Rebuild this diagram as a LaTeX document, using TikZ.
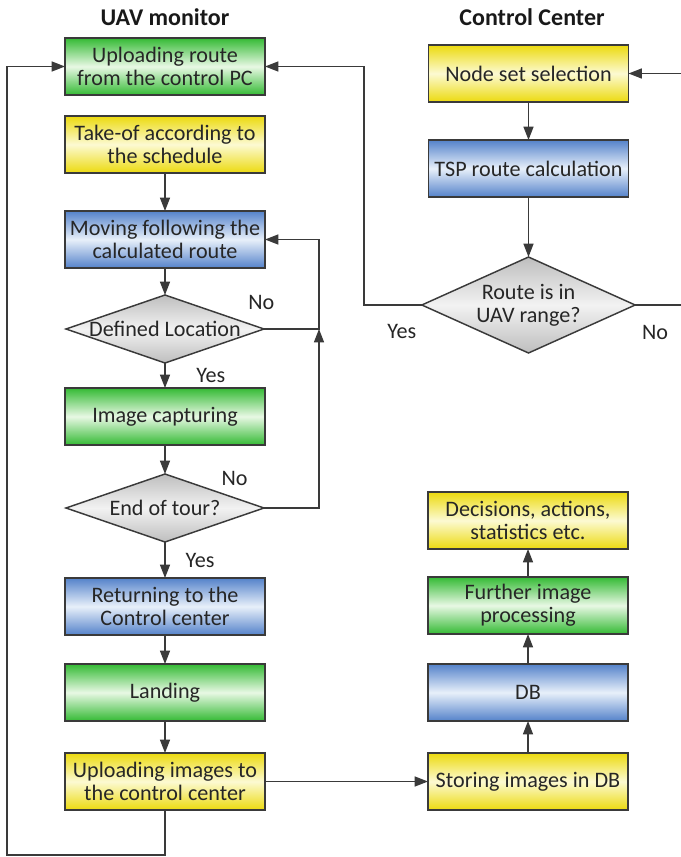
\documentclass[tikz,border=0pt]{standalone}
\usepackage{fontspec}
\setmainfont{Carlito}
\usetikzlibrary{arrows.meta,positioning,shapes.geometric}

\definecolor{grnE}{RGB}{52,186,52}
\definecolor{grnM}{RGB}{232,248,228}
\definecolor{ylwE}{RGB}{236,218,14}
\definecolor{ylwM}{RGB}{252,250,210}
\definecolor{bluE}{RGB}{84,130,202}
\definecolor{bluM}{RGB}{232,240,250}
\definecolor{gryE}{RGB}{190,190,190}
\definecolor{gryM}{RGB}{242,242,242}
\definecolor{edge}{RGB}{58,58,58}

\begin{document}
\begin{tikzpicture}[
  x=0.75pt, y=-0.75pt, >={Triangle[length=10pt,width=7.5pt]},
  font=\fontsize{16.6}{17.5}\selectfont,
  box/.style={draw=edge, line width=1.1pt, align=center, inner sep=2pt, outer sep=0pt,
              minimum width=150pt, minimum height=42.75pt, text=black!85},
  gbox/.style={box, top color=grnE, bottom color=grnE, middle color=grnM},
  ybox/.style={box, top color=ylwE, bottom color=ylwE, middle color=ylwM},
  bbox/.style={box, top color=bluE, bottom color=bluE, middle color=bluM},
  test/.style={diamond, draw=edge, line width=1.1pt, align=center, inner sep=0pt,
               outer sep=0pt, aspect=2.9, minimum width=148.5pt, minimum height=51pt,
               text=black!85, top color=gryE, bottom color=gryE, middle color=gryM},
  ar/.style={draw=edge, line width=1pt, ->},
  lb/.style={inner sep=1pt, text=black!85},
  title/.style={font=\fontsize{18}{20}\bfseries\selectfont, text=black!90},
]
\useasboundingbox (0,0) rectangle (681,857);

% UAV side
\node[title] (uavtitle) at (165,17) {UAV monitor};
\node[gbox] (uproute) at (165,66.5) {Uploading route\\from the control PC};
\node[ybox, below=15.75pt of uproute] (takeoff) {Take-of according to\\the schedule};
\node[bbox, below=28.5pt of takeoff] (moving) {Moving following the\\calculated route};
\node[test, below=20.25pt of moving] (defloc) {Defined Location};
\node[gbox, below=18.75pt of defloc] (capture) {Image capturing};
\node[test, below=21.75pt of capture] (eot) {End of tour?};
\node[bbox, below=27pt of eot] (ret) {Returning to the\\Control center};
\node[gbox, below=21.75pt of ret] (land) {Landing};
\node[ybox, below=24pt of land] (upimg) {Uploading images to\\the control center};

% control center side
\node[title] (cctitle) at (532,17) {Control Center};
\node[ybox] (nodeset) at (528.5,73.5) {Node set selection};
\node[bbox, below=28.5pt of nodeset] (tsp) {TSP route calculation};
\node[test, below=45pt of tsp, aspect=2.22, minimum width=160pt, minimum height=72pt]
  (range) {Route is in\\UAV range?};
\node[ybox, right=122.25pt of upimg] (store) {Storing images in DB};
\node[bbox, above=24pt of store] (db) {DB};
\node[gbox, above=22.5pt of db] (further) {Further image\\processing};
\node[ybox, above=21pt of further] (decide) {Decisions, actions,\\statistics etc.};

\coordinate (loopx) at (319,0);
\coordinate (yesx) at (364,0);
\coordinate (nobend) at (695,0);
\coordinate (backx) at (7,855);

\draw[ar] (takeoff) -- (moving);
\draw[ar] (moving) -- (defloc);
\draw[ar] (defloc) -- node[lb, right=22pt]{Yes} (capture);
\draw[ar] (capture) -- (eot);
\draw[ar] (eot) -- node[lb, right=14pt]{Yes} (ret);
\draw[ar] (ret) -- (land);
\draw[ar] (land) -- (upimg);
\draw[ar] (upimg) -- (store);
\draw[ar] (store) -- (db);
\draw[ar] (db) -- (further);
\draw[ar] (further) -- (decide);
\draw[ar] (nodeset) -- (tsp);
\draw[ar] (tsp) -- (range);

% loops
\draw[ar] (defloc.east) node[lb, above=13pt, xshift=-2pt]{No}
  -| (loopx |- moving.east) -- (moving.east);
\draw[ar] (eot.east) node[lb, above=15pt, xshift=-22pt]{No}
  -| (loopx |- defloc.east);
\draw[ar] (range.west) node[lb, below=13pt, xshift=-15pt]{Yes}
  -| (yesx |- uproute.east) -- (uproute.east);
\draw[ar] (range.east) node[lb, below=14pt, xshift=15pt]{No}
  -| (nobend |- nodeset.east) -- (nodeset.east);
\draw[ar] (upimg.south) |- (backx) |- (uproute.west);
\end{tikzpicture}
\end{document}
